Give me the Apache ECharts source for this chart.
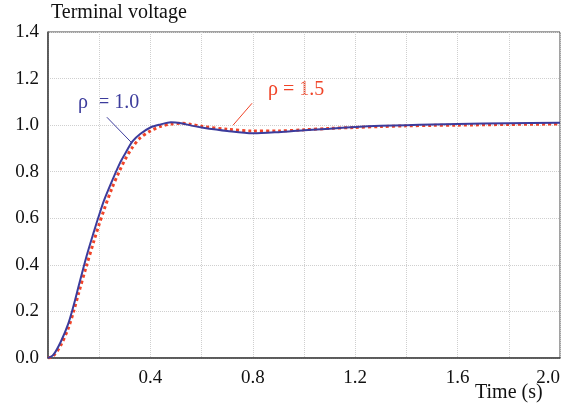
<!DOCTYPE html>
<html>
<head>
<meta charset="utf-8">
<script src="https://cdn.jsdelivr.net/npm/echarts@6/dist/echarts.min.js"></script>
<style>
  html, body { margin: 0; padding: 0; background: #fff; }
  #chart { width: 579px; height: 411px; }
</style>
</head>
<body>
<div id="chart"></div>
<script>
// time samples (s)
const time = [0, 0.02, 0.05, 0.08, 0.1, 0.12, 0.15, 0.18, 0.2, 0.22, 0.25, 0.28, 0.3, 0.33, 0.36,
  0.4, 0.44, 0.48, 0.52, 0.56, 0.6, 0.7, 0.8, 0.9, 1.0, 1.1, 1.2, 1.3, 1.4, 1.5, 1.6, 1.8, 2.0];
// rho = 1.0
const voltRho10 = [0, 0.012, 0.07, 0.15, 0.225, 0.31, 0.435, 0.545, 0.615, 0.68, 0.76, 0.835, 0.875, 0.93, 0.962,
  0.99, 1.003, 1.012, 1.008, 0.998, 0.99, 0.975, 0.965, 0.97, 0.978, 0.985, 0.992, 0.997, 1.0, 1.003, 1.005, 1.008, 1.01];
// rho = 1.5
const voltRho15 = [0, 0.008, 0.055, 0.13, 0.2, 0.28, 0.395, 0.505, 0.575, 0.64, 0.73, 0.805, 0.85, 0.905, 0.945,
  0.975, 0.995, 1.005, 1.008, 1.003, 0.995, 0.982, 0.975, 0.975, 0.98, 0.986, 0.99, 0.994, 0.997, 0.999, 1.0, 1.003, 1.005];

const pairs = (ys) => time.map((t, i) => [t, ys[i]]);

const chart = echarts.init(document.getElementById('chart'));
const font = '"Liberation Serif", "DejaVu Serif", serif';
const blue = '#3c3c9c';
const red = '#f04428';

chart.setOption({
  animation: false,
  grid: { left: 48, right: 19, top: 32, bottom: 53, show: true, borderColor: '#444', borderWidth: 1 },
  xAxis: {
    type: 'value', min: 0, max: 2.0, interval: 0.2,
    axisLine: { lineStyle: { color: '#444', width: 1.5 } },
    axisTick: { show: false },
    axisLabel: {
      color: '#111', fontFamily: font, fontSize: 19, margin: 11, alignMaxLabel: 'right',
      formatter: (v) => {
        const k = Math.round(v * 10);
        return (k > 0 && k % 4 === 0) ? (k / 10).toFixed(1) : '';
      }
    },
    splitLine: { lineStyle: { color: '#cfcfcf', type: 'dotted' } }
  },
  yAxis: {
    type: 'value', min: 0, max: 1.4, interval: 0.2,
    axisLine: { show: true, lineStyle: { color: '#444', width: 1.5 } },
    axisTick: { show: false },
    axisLabel: { color: '#111', fontFamily: font, fontSize: 19, margin: 9, formatter: (v) => v.toFixed(1) },
    splitLine: { lineStyle: { color: '#cfcfcf', type: 'dotted' } }
  },
  series: [
    {
      name: 'rho=1.5', type: 'line', data: pairs(voltRho15), smooth: 0.3, showSymbol: false,
      lineStyle: { color: red, width: 3, type: [3, 3] }, z: 2,
      markLine: {
        silent: true, symbol: 'none', label: { show: false },
        lineStyle: { color: red, width: 1, type: 'solid' },
        data: [[{ coord: [0.797, 1.094] }, { coord: [0.723, 1.0] }]]
      }
    },
    {
      name: 'rho=1.0', type: 'line', data: pairs(voltRho10), smooth: 0.3, showSymbol: false,
      lineStyle: { color: blue, width: 2 }, z: 3,
      markLine: {
        silent: true, symbol: 'none', label: { show: false },
        lineStyle: { color: blue, width: 1, type: 'solid' },
        data: [[{ coord: [0.23, 1.034] }, { coord: [0.328, 0.923] }]]
      }
    }
  ],
  graphic: [
    { type: 'text', left: 51, top: 3, style: { text: 'Terminal voltage', font: '20px ' + font, fill: '#111' } },
    { type: 'text', left: 475, top: 383, style: { text: 'Time (s)', font: '20px ' + font, fill: '#111' } },
    { type: 'text', left: 78, top: 93, style: { text: 'ρ  = 1.0', font: '20px ' + font, fill: blue } },
    { type: 'text', left: 268, top: 80, style: { text: 'ρ = 1.5', font: '20px ' + font, fill: red } }
  ]
});
</script>
</body>
</html>
